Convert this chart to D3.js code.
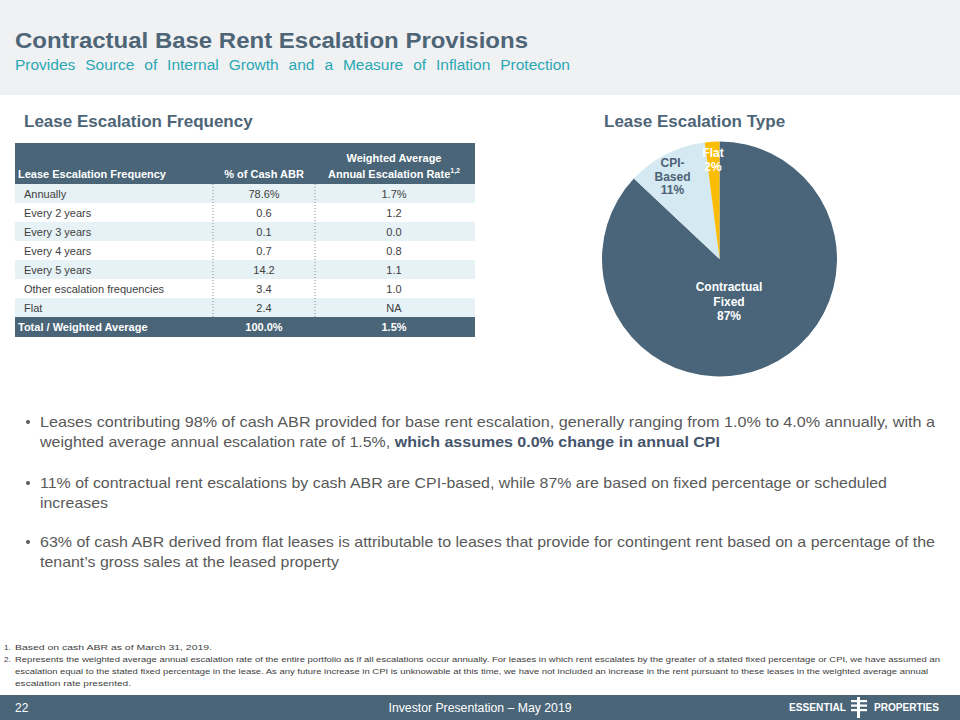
<!DOCTYPE html>
<html><head><meta charset="utf-8">
<script src="https://cdn.jsdelivr.net/npm/d3@7"></script>
<style>body{margin:0;background:#fff}svg{display:block}</style>
</head><body>
<script>
// ---- data ----
const frequencies = ["Annually","Every 2 years","Every 3 years","Every 4 years","Every 5 years","Other escalation frequencies","Flat"];
const pctCashABR = ["78.6%","0.6","0.1","0.7","14.2","3.4","2.4"];
const escalationRates = ["1.7%","1.2","0.0","0.8","1.1","1.0","NA"];
const totalRow = ["Total / Weighted Average","100.0%","1.5%"];
const pieTypes = ["Contractual Fixed","CPI-Based","Flat"];
const pieValues = [87, 11, 2];

const W = 960, H = 720;
const dark = "#4a6578", teal = "#2aa8b4", text = "#595959";
const svg = d3.select("body").append("svg").attr("width", W).attr("height", H)
  .style("font-family", "Arial, 'Liberation Sans', sans-serif");

// header band
svg.append("rect").attr("x",0).attr("y",0).attr("width",W).attr("height",95).attr("fill","#f0f1f2");
svg.append("text").attr("x",15).attr("y",48).attr("font-size",22).attr("font-weight","bold")
  .attr("fill","#4d6577").attr("textLength",513).attr("lengthAdjust","spacingAndGlyphs")
  .text("Contractual Base Rent Escalation Provisions");
const sub = svg.append("text").attr("x",15).attr("y",70).attr("font-size",15.5).attr("fill",teal)
  .text("Provides Source of Internal Growth and a Measure of Inflation Protection");
{
  const len = sub.node().getComputedTextLength();
  const spaces = 10;
  if (len < 555) sub.attr("word-spacing", (555 - len) / spaces);
  else sub.attr("textLength",555).attr("lengthAdjust","spacingAndGlyphs");
}

// section titles
svg.append("text").attr("x",24).attr("y",127).attr("font-size",17).attr("font-weight","bold")
  .attr("fill","#4d6577").text("Lease Escalation Frequency");
svg.append("text").attr("x",604).attr("y",127).attr("font-size",17).attr("font-weight","bold")
  .attr("fill","#4d6577").text("Lease Escalation Type");

// ---- table ----
const tx0 = 15, tx1 = 213, tx2 = 315, tx3 = 475;
const headTop = 143, headBot = 184, rowH = 19;
const y = d3.scaleBand().domain(d3.range(frequencies.length)).range([headBot, headBot + rowH*frequencies.length]);
const t = svg.append("g");
t.append("rect").attr("x",tx0).attr("y",headTop).attr("width",tx3-tx0).attr("height",headBot-headTop).attr("fill",dark);
t.append("text").attr("x",18).attr("y",178).attr("font-size",11).attr("font-weight","bold").attr("fill","#fff").text("Lease Escalation Frequency");
t.append("text").attr("x",264).attr("y",178).attr("font-size",11).attr("font-weight","bold").attr("fill","#fff").attr("text-anchor","middle").text("% of Cash ABR");
t.append("text").attr("x",394).attr("y",162).attr("font-size",11).attr("font-weight","bold").attr("fill","#fff").attr("text-anchor","middle").text("Weighted Average");
const h3 = t.append("text").attr("x",394).attr("y",178).attr("font-size",11).attr("font-weight","bold").attr("fill","#fff").attr("text-anchor","middle");
h3.append("tspan").text("Annual Escalation Rate");
h3.append("tspan").attr("font-size",7).attr("dy",-5).text("1,2");

const rows = t.selectAll("g.row").data(frequencies).join("g").attr("class","row")
  .attr("transform",(d,i)=>`translate(0,${y(i)})`);
rows.append("rect").attr("x",tx0).attr("width",tx3-tx0).attr("height",rowH)
  .attr("fill",(d,i)=> i%2===0 ? "#e6f2f5" : "#ffffff");
rows.append("text").attr("x",24).attr("y",13.5).attr("font-size",11).attr("fill","#404040").text(d=>d);
rows.append("text").attr("x",264).attr("y",13.5).attr("font-size",11).attr("fill","#404040").attr("text-anchor","middle").text((d,i)=>pctCashABR[i]);
rows.append("text").attr("x",394).attr("y",13.5).attr("font-size",11).attr("fill","#404040").attr("text-anchor","middle").text((d,i)=>escalationRates[i]);
[tx1, tx2].forEach(x=>{
  t.append("line").attr("x1",x).attr("x2",x).attr("y1",headBot).attr("y2",headBot+rowH*frequencies.length)
    .attr("stroke","#8a8a8a").attr("stroke-width",1).attr("stroke-dasharray","1,2");
});
const totY = headBot + rowH*frequencies.length;
t.append("rect").attr("x",tx0).attr("y",totY).attr("width",tx3-tx0).attr("height",20).attr("fill",dark);
t.append("text").attr("x",18).attr("y",totY+14).attr("font-size",11).attr("font-weight","bold").attr("fill","#fff").text(totalRow[0]);
t.append("text").attr("x",264).attr("y",totY+14).attr("font-size",11).attr("font-weight","bold").attr("fill","#fff").attr("text-anchor","middle").text(totalRow[1]);
t.append("text").attr("x",394).attr("y",totY+14).attr("font-size",11).attr("font-weight","bold").attr("fill","#fff").attr("text-anchor","middle").text(totalRow[2]);

// ---- pie ----
const pieColors = d3.scaleOrdinal().domain(pieTypes).range(["#4a6579","#d4e9f1","#fbbc05"]);
const pie = d3.pie().sort(null).value(d=>d)(pieValues);
const arc = d3.arc().innerRadius(0).outerRadius(117.5);
const pg = svg.append("g").attr("transform","translate(719.5,259)");
pg.selectAll("path").data(pie).join("path").attr("d",arc).attr("fill",(d,i)=>pieColors(pieTypes[i]));
const labelDefs = [
  {lines:["Contractual","Fixed", pieValues[0]+"%"], x:9.5, y:32, dy:14.5, fill:"#fff"},
  {lines:["CPI-","Based", pieValues[1]+"%"], x:-47, y:-92, dy:13.5, fill:"#4d6276"},
  {lines:["Flat", pieValues[2]+"%"], x:-6.5, y:-102, dy:14, fill:"#fff"}
];
labelDefs.forEach(l=>{
  const tx = pg.append("text").attr("text-anchor","middle").attr("font-size",12).attr("font-weight","bold").attr("fill",l.fill);
  l.lines.forEach((s,k)=>tx.append("tspan").attr("x",l.x).attr("y",l.y + k*l.dy).text(s));
});

// ---- bullets ----
const narrow = "'Liberation Sans Narrow', 'Arial Narrow', Arial, sans-serif";
const bullets = [
  {y:427, lines:[[["Leases contributing 98% of cash ABR provided for base rent escalation, generally ranging from 1.0% to 4.0% annually, with a",false]],
                [["weighted average annual escalation rate of 1.5%, ",false],["which assumes 0.0% change in annual CPI",true]]], w:[895,680]},
  {y:488, lines:[[["11% of contractual rent escalations by cash ABR are CPI-based, while 87% are based on fixed percentage or scheduled",false]],
                [["increases",false]]], w:[847,68]},
  {y:547, lines:[[["63% of cash ABR derived from flat leases is attributable to leases that provide for contingent rent based on a percentage of the",false]],
                [["tenant\u2019s gross sales at the leased property",false]]], w:[895,299]}
];
bullets.forEach(b=>{
  svg.append("circle").attr("cx",28).attr("cy",b.y-5).attr("r",2).attr("fill",text);
  b.lines.forEach((ln,k)=>{
    const tx = svg.append("text").attr("x",40).attr("y",b.y + k*20).attr("font-size",15).attr("fill",text)
      .style("font-family",narrow).attr("textLength",b.w[k]).attr("lengthAdjust","spacingAndGlyphs");
    ln.forEach(([s,bold])=>tx.append("tspan").attr("font-weight",bold?"bold":"normal").attr("fill",bold?"#44546a":text).text(s));
  });
});

// ---- footnotes ----
const notes = [
  {n:"1.", lines:["Based on cash ABR as of March 31, 2019."], w:[197]},
  {n:"2.", lines:["Represents the weighted average annual escalation rate of the entire portfolio as if all escalations occur annually. For leases in which rent escalates by the greater of a stated fixed percentage or CPI, we have assumed an",
                  "escalation equal to the stated fixed percentage in the lease. As any future increase in CPI is unknowable at this time, we have not included an increase in the rent pursuant to these leases in the weighted average annual",
                  "escalation rate presented."], w:[925,913,116]}
];
let fy = 650;
notes.forEach(nt=>{
  svg.append("text").attr("x",4).attr("y",fy).attr("font-size",8).attr("fill","#404040").style("font-family",narrow).text(nt.n);
  nt.lines.forEach((s,k)=>{
    svg.append("text").attr("x",15).attr("y",fy).attr("font-size",8).attr("fill","#404040").style("font-family",narrow)
      .attr("textLength",nt.w[k]).attr("lengthAdjust","spacingAndGlyphs").text(s);
    fy += 12;
  });
});

// ---- footer ----
svg.append("rect").attr("x",0).attr("y",695).attr("width",W).attr("height",25).attr("fill",dark);
svg.append("text").attr("x",15).attr("y",712).attr("font-size",12).attr("fill","#fff").style("font-family",narrow).text("22");
svg.append("text").attr("x",480).attr("y",712).attr("font-size",12).attr("fill","#fff").attr("text-anchor","middle")
  .style("font-family",narrow).attr("textLength",183).attr("lengthAdjust","spacingAndGlyphs").text("Investor Presentation \u2013 May 2019");
svg.append("text").attr("x",789).attr("y",711).attr("font-size",11.5).attr("font-weight","bold").attr("fill","#fff")
  .style("font-family",narrow).attr("textLength",57).attr("lengthAdjust","spacingAndGlyphs").text("ESSENTIAL");
const lg = svg.append("g").attr("fill","#fff");
lg.append("rect").attr("x",857).attr("y",697).attr("width",3).attr("height",21);
[[851,700],[851,704.5],[851,709]].forEach(([x,yy])=>
  lg.append("rect").attr("x",x).attr("y",yy).attr("width",16).attr("height",2.2));
svg.append("text").attr("x",874).attr("y",711).attr("font-size",11.5).attr("font-weight","bold").attr("fill","#fff")
  .style("font-family",narrow).attr("textLength",65).attr("lengthAdjust","spacingAndGlyphs").text("PROPERTIES");
</script>
</body></html>
